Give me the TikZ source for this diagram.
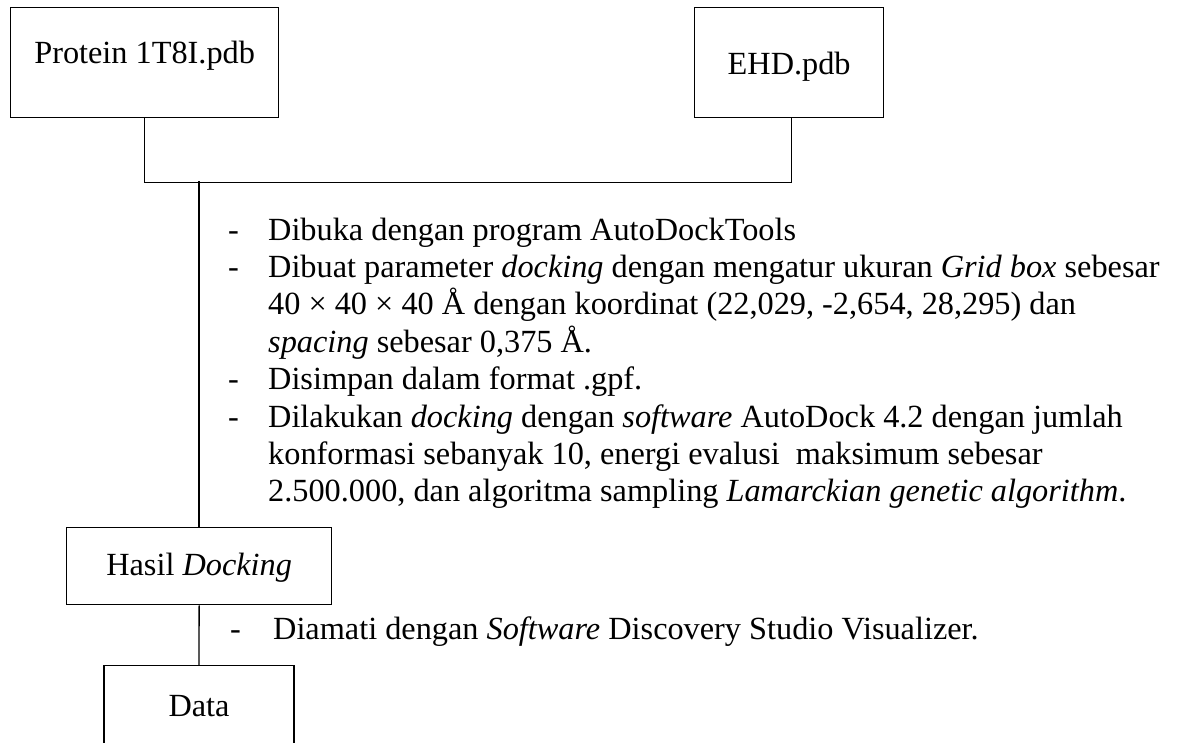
\documentclass[tikz,border=0pt]{standalone}
\usepackage{fontspec}
\setmainfont{Liberation Serif}
\usetikzlibrary{positioning}

\tikzset{
  filebox/.style={draw, line width=1.3pt, inner sep=0pt, align=center},
  conn/.style={line width=1.3pt},
  body/.style={font=\fontsize{32.3pt}{37.3pt}\selectfont}
}

\begin{document}
\begin{tikzpicture}[x=1pt,y=-1pt,body]
\useasboundingbox (0,0) rectangle (1178,742);

\node[filebox, anchor=north west, minimum width=268pt, text height=56pt, text depth=54pt](prot) at (10,7){Protein 1T8I.pdb};
\node[filebox, anchor=north west, minimum width=189pt, text height=67pt, text depth=43pt](ehd) at (694,7){EHD.pdb};
\node[filebox, anchor=north west, minimum width=265pt, text height=48pt, text depth=29pt](hasil) at (66,527){Hasil \textit{Docking}};
\node[filebox, anchor=north, minimum width=190pt, text height=51pt, text depth=60pt](data) at (199,665){Data};
\coordinate (join) at (199,181);

\node[anchor=base west, inner sep=0pt](steps) at (228,240){%
\begin{tabular}[t]{@{}p{40pt}@{}l@{}}
- & Dibuka dengan program AutoDockTools\\
- & Dibuat parameter \textit{docking} dengan mengatur ukuran \textit{Grid box} sebesar\\
  & 40 × 40 × 40 Å dengan koordinat (22,029, -2,654, 28,295) dan\\
  & \textit{spacing} sebesar 0,375 Å.\\
- & Disimpan dalam format .gpf.\\
- & Dilakukan \textit{docking} dengan \textit{software} AutoDock 4.2 dengan jumlah\\
  & konformasi sebanyak 10, energi evalusi\ \ maksimum sebesar\\
  & 2.500.000, dan algoritma sampling \textit{Lamarckian genetic algorithm}.
\end{tabular}};
\node[anchor=base west, inner sep=0pt](observe) at (230,639){%
\begin{tabular}[t]{@{}p{43pt}@{}l@{}}
- & Diamati dengan \textit{Software} Discovery Studio Visualizer.
\end{tabular}};

\draw[conn] (prot.south) -- ++(0,64) -| ([xshift=2.5pt]ehd.south);
\draw[conn] (join) -- (join |- hasil.north);
\draw[conn] (hasil.south) -- (data.north);
\end{tikzpicture}
\end{document}
